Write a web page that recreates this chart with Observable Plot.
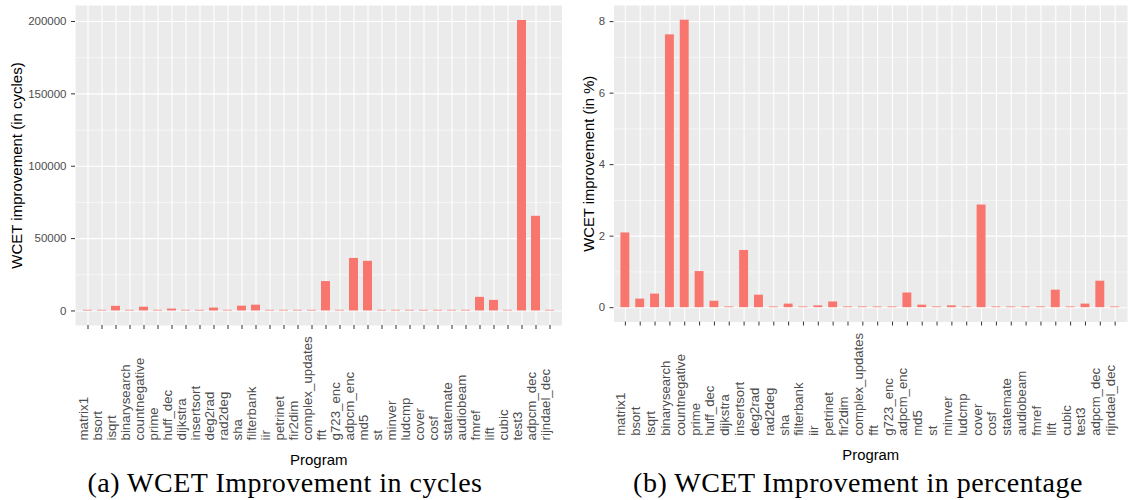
<!DOCTYPE html>
<html><head><meta charset="utf-8">
<script src="https://cdn.jsdelivr.net/npm/d3@7"></script>
<script src="https://cdn.jsdelivr.net/npm/@observablehq/plot@0.6"></script>
<style>
body{margin:0;background:#fff;width:1130px;height:500px;overflow:hidden;position:relative;font-family:"Liberation Sans",Arial,sans-serif;}
#a{position:absolute;left:0;top:0;}
#b{position:absolute;left:565px;top:0;}
.cap{position:absolute;top:467px;line-height:32px;font-family:"Liberation Serif",serif;font-size:28px;letter-spacing:0.5px;color:#000;text-align:center;white-space:nowrap;}
</style></head><body>
<div id="a"></div><div id="b"></div>
<div class="cap" style="left:0;width:570px">(a) WCET Improvement in cycles</div>
<div class="cap" style="left:575px;width:566px">(b) WCET Improvement in percentage</div>
<script>
const programs = ["matrix1","bsort","isqrt","binarysearch","countnegative","prime","huff_dec","dijkstra","insertsort","deg2rad","rad2deg","sha","filterbank","iir","petrinet","fir2dim","complex_updates","fft","g723_enc","adpcm_enc","md5","st","minver","ludcmp","cover","cosf","statemate","audiobeam","fmref","lift","cubic","test3","adpcm_dec","rijndael_dec"];
const cycles = [450,450,3200,450,2600,450,1300,450,450,2000,450,3300,4000,450,450,450,450,20300,450,36300,34300,450,450,450,450,450,450,450,9400,7300,450,200700,65400,450];
const percent = [2.09,0.24,0.38,7.63,8.04,1.01,0.18,0.02,1.60,0.35,0.02,0.10,0.02,0.05,0.16,0.02,0.02,0.02,0.02,0.41,0.07,0.02,0.05,0.02,2.87,0.02,0.02,0.02,0.02,0.49,0.02,0.10,0.74,0.02];
const cycleTicks = [0,50000,100000,150000,200000];
const cycleMinor = [25000,75000,125000,175000];
const pctTicks = [0,2,4,6,8];
const pctMinor = [1,3,5,7];

function panel({values, ticks, minor, domain, yLabel, width, marginLeft, marginRight, titleDx}) {
  const data = programs.map((p, i) => ({program: p, value: values[i]}));
  return Plot.plot({
    width, height: 470, marginLeft, marginRight, marginTop: 5, marginBottom: 145,
    style: {fontFamily: "Liberation Sans, Arial, sans-serif", background: "transparent"},
    x: {domain: programs, paddingInner: 0.37, paddingOuter: 0.285, axis: null},
    y: {domain, axis: null},
    marks: [
      Plot.frame({fill: "#EBEBEB", stroke: null}),
      Plot.gridY(minor, {stroke: "white", strokeOpacity: 1, strokeWidth: 0.55}),
      Plot.gridY(ticks, {stroke: "white", strokeOpacity: 1, strokeWidth: 1.1}),
      Plot.gridX(programs, {stroke: "white", strokeOpacity: 1, strokeWidth: 1.1}),
      Plot.barY(data, {x: "program", y: "value", fill: "#F8766D"}),
      Plot.axisY(ticks, {tickSize: 4, tickPadding: 5, stroke: "#333333", fill: "#4D4D4D", fontSize: 11.5, label: null, tickFormat: d => String(d)}),
      Plot.axisX(programs, {tickSize: 4, stroke: "#333333", tickFormat: () => "", label: null}),
      Plot.text(programs, {x: d => d, frameAnchor: "bottom", dy: 115, rotate: -90, textAnchor: "start", fill: "#4D4D4D", fontSize: 13.3}),
      Plot.text(["Program"], {frameAnchor: "bottom", dy: 139, fontSize: 15, fill: "black"}),
      Plot.text([yLabel], {frameAnchor: "left", textAnchor: "middle", dx: titleDx, rotate: -90, fontSize: 15, fill: "black"})
    ]
  });
}

document.getElementById("a").append(panel({
  values: cycles, ticks: cycleTicks, minor: cycleMinor, domain: [-10050, 211050],
  yLabel: "WCET improvement (in cycles)", width: 565, marginLeft: 75, marginRight: 3.5, titleDx: -58
}));
document.getElementById("b").append(panel({
  values: percent, ticks: pctTicks, minor: pctMinor, domain: [-0.4025, 8.4525],
  yLabel: "WCET improvement (in %)", width: 571, marginLeft: 49, marginRight: 3, titleDx: -24.5
}));
</script>
</body></html>
